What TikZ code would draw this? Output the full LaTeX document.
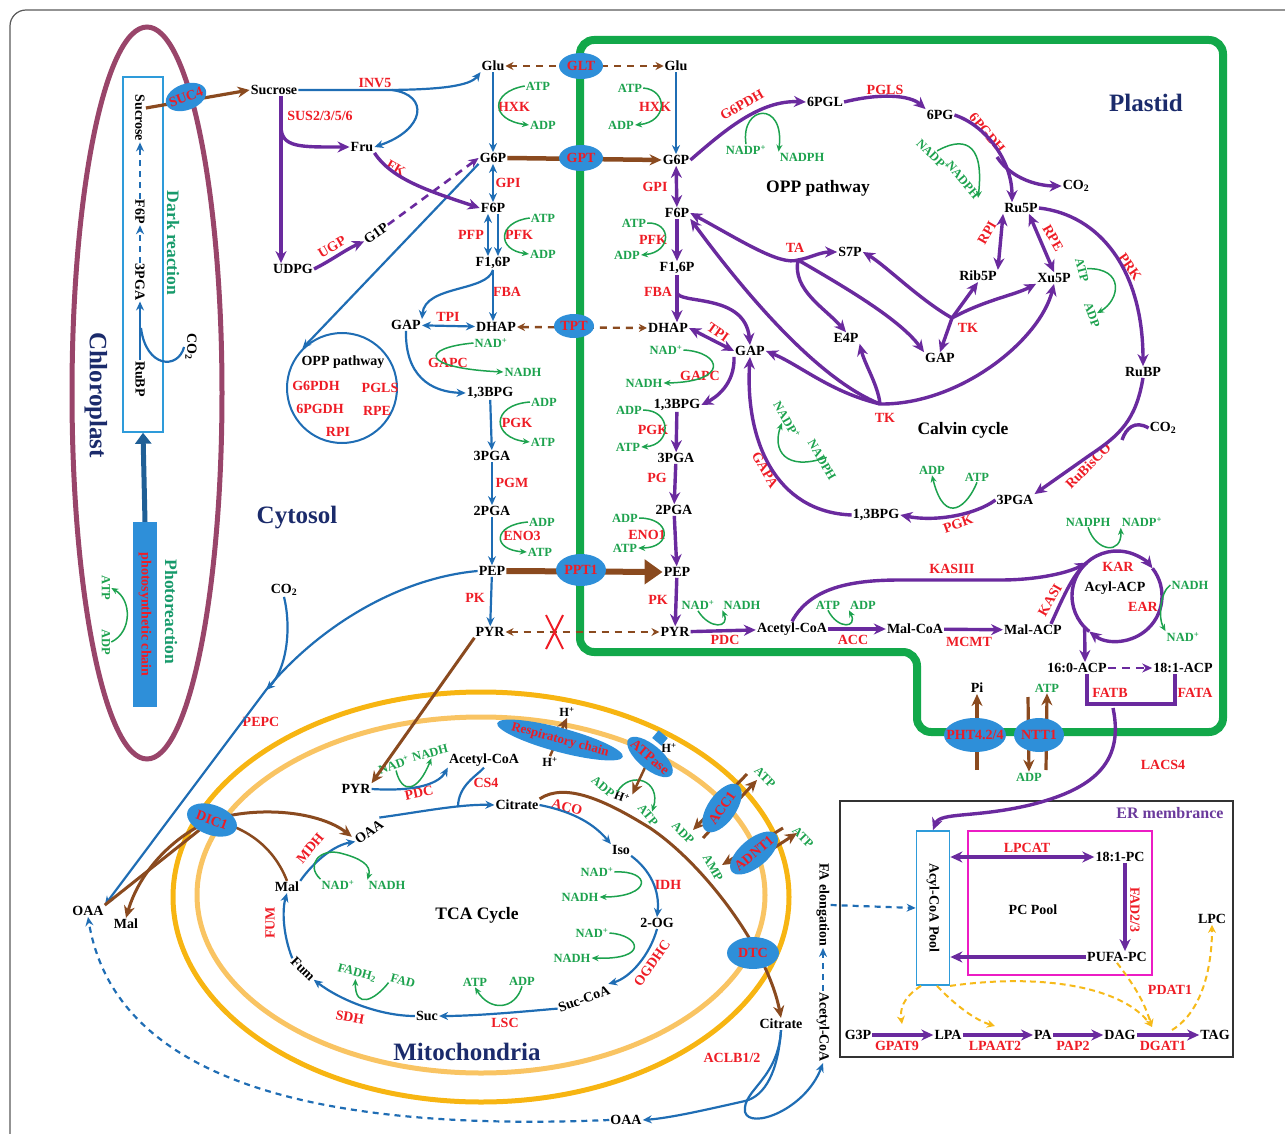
\documentclass[tikz,border=0pt]{standalone}
\usepackage{fontspec}
\setmainfont{Liberation Serif}
\usetikzlibrary{arrows.meta,shapes.geometric}

\definecolor{cblue}{HTML}{1F6DB4}
\definecolor{cpurple}{HTML}{6A2A9E}
\definecolor{cbrown}{HTML}{8A4A1F}
\definecolor{cgreen}{HTML}{1DA24E}
\definecolor{cred}{HTML}{EE1C25}
\definecolor{tpblue}{HTML}{2E8FD9}
\definecolor{titlenavy}{HTML}{1B2B6B}
\definecolor{plgreen}{HTML}{12A84A}
\definecolor{chlred}{HTML}{99456A}
\definecolor{mitoout}{HTML}{F7B512}
\definecolor{mitoin}{HTML}{F9C463}
\definecolor{boxblue}{HTML}{2E9BDA}
\definecolor{pcpink}{HTML}{EC1CC4}
\definecolor{dashyel}{HTML}{F6BA1A}
\definecolor{erpurple}{HTML}{6B3A9C}
\definecolor{dkteal}{HTML}{179A6B}
\definecolor{thickblue}{HTML}{1F5F96}

\newcommand{\metf}{\fontsize{14}{14}\selectfont\bfseries}
\newcommand{\coff}{\fontsize{12.5}{12.5}\selectfont\bfseries}

\begin{document}
\begin{tikzpicture}[x=1pt,y=-1pt,
  met/.style={font=\metf, inner sep=1pt},
  enz/.style={font=\metf, text=cred, inner sep=1pt},
  cof/.style={font=\coff, text=cgreen, inner sep=1pt},
  ttl/.style={font=\fontsize{25}{25}\selectfont\bfseries, text=titlenavy},
  sect/.style={font=\fontsize{17.5}{17.5}\selectfont\bfseries},
  tp/.style={ellipse, fill=tpblue, text=cred, font=\metf, inner xsep=-5pt, inner ysep=-2pt, minimum width=44pt, minimum height=26pt},
  bl/.style={draw=cblue, line width=2.2pt, >={Stealth[length=9pt,width=8pt]}},
  bld/.style={bl, dash pattern=on 6pt off 5pt},
  pu/.style={draw=cpurple, line width=3.4pt, >={Stealth[length=12pt,width=11pt]}},
  pud/.style={draw=cpurple, line width=2.6pt, dash pattern=on 8pt off 6pt, >={Stealth[length=10pt,width=9pt]}},
  br/.style={draw=cbrown, line width=3.2pt, >={Stealth[length=12pt,width=11pt]}},
  brd/.style={draw=cbrown, line width=2.4pt, dash pattern=on 7pt off 6pt, >={Stealth[length=8pt,width=8pt]}},
  gr/.style={draw=cgreen, line width=1.5pt, >={Stealth[length=7pt,width=6pt]}},
  yd/.style={draw=dashyel, line width=2pt, dash pattern=on 6pt off 4pt, >={Stealth[length=8pt,width=8pt]}}]

\useasboundingbox (0,0) rectangle (1285,1134);
\draw[black!65, line width=1.2pt, rounded corners=16pt] (10,10) rectangle (1330,1180);

% chloroplast
\draw[chlred, line width=5pt] (147,393) ellipse [x radius=75, y radius=366];
\node[draw=boxblue, line width=1.5pt, minimum width=40pt, minimum height=355pt, inner sep=0pt] (dbox) at (143,254.5) {};
\node[met, rotate=-90] (sucCh) at (140,118) {Sucrose};
\node[met, rotate=-90] (f6pCh) at (140,212) {F6P};
\node[met, rotate=-90] (pgaCh) at (140,282) {3PGA};
\node[met, rotate=-90] (rubpCh) at (140,379) {RuBP};
\node[met, rotate=-90] (co2Ch) at (191,347) {CO\textsubscript{2}};
\node[sect, text=dkteal, rotate=-90] at (173,243) {Dark reaction};
\node[ttl, rotate=-90] at (96,395) {Chloroplast};
\node[rotate=-90, fill=tpblue, minimum width=185pt, minimum height=24pt, inner sep=0pt, font=\metf, text=cred] (phc) at (145,614.5) {photosynthetic chain};
\node[sect, text=dkteal, rotate=-90] at (171,612) {Photoreaction};
\node[cof, rotate=-90] (atpCh) at (106,588) {ATP};
\node[cof, rotate=-90] (adpCh) at (106,642) {ADP};

% plastid, mitochondria, ER frames
\draw[plgreen, line width=8pt, rounded corners=14pt] (580,40) -- (1223,40) -- (1223,732) -- (917,732) -- (917,652) -- (580,652) -- cycle;
\draw[mitoout, line width=5pt] (481,897) ellipse [x radius=308, y radius=205];
\draw[mitoin, line width=5pt] (481,895) ellipse [x radius=284, y radius=178];
\draw[black!80, line width=2pt] (840,801) rectangle (1233,1057);
\draw[pcpink, line width=2pt] (968,831) rectangle (1152,975);
\node[circle, draw=cblue, line width=2pt, minimum size=110pt, inner sep=0pt] (oppc) at (342,388) {};

% titles
\node[ttl] at (297,518) {Cytosol};
\node[ttl] at (1146,103) {Plastid};
\node[ttl] at (467,1052) {Mitochondria};
\node[sect] at (818,188) {OPP pathway};
\node[sect] at (963,430) {Calvin cycle};
\node[sect] at (477,915) {TCA Cycle};
\node[font=\fontsize{16}{16}\selectfont\bfseries, text=erpurple] at (1170,813) {ER membrance};

% cytosol
\node[met] (sucC) at (274,90) {Sucrose};
\node[met] (gluC) at (493,66) {Glu};
\node[met] (fruC) at (362,147) {Fru};
\node[met] (g6pC) at (493,158) {G6P};
\node[met] (f6pC) at (493,208) {F6P};
\node[met] (fbpC) at (493,263) {F1,6P};
\node[met] (gapC) at (406,325) {GAP};
\node[met] (dhapC) at (496,327) {DHAP};
\node[met] (bpgC) at (490,393) {1,3BPG};
\node[met] (pgaC) at (492,456) {3PGA};
\node[met] (pga2C) at (492,511) {2PGA};
\node[met] (pepC) at (492,571) {PEP};
\node[met] (pyrC) at (490,632) {PYR};
\node[met] (udpgC) at (293,269) {UDPG};
\node[met, rotate=35] (g1pC) at (376,233) {G1P};
\node[met] (co2C) at (284,590) {CO\textsubscript{2}};
\node[met] (oaaC) at (88,911) {OAA};
\node[met] (malC) at (126,924) {Mal};
\node[met] (citC) at (781,1024) {Citrate};
\node[met] (oaaB) at (626,1120) {OAA};
\node[met, rotate=-90] (acoaC) at (823,1027) {Acetyl-CoA};
\node[met, rotate=-90] (fael) at (823,905) {FA elongation};
\node[met] at (343,362) {OPP pathway};
\node[enz] at (316,386) {G6PDH};
\node[enz] at (380,388) {PGLS};
\node[enz] at (320,409) {6PGDH};
\node[enz] at (377,411) {RPE};
\node[enz] at (338,432) {RPI};

\node[enz] at (375,83) {INV5};
\node[enz] at (320,116) {SUS2/3/5/6};
\node[enz, rotate=-30] at (396,168) {FK};
\node[enz, rotate=30] at (332,247) {UGP};
\node[enz] at (514,107) {HXK};
\node[enz] at (508,183) {GPI};
\node[enz] at (471,235) {PFP};
\node[enz] at (519,235) {PFK};
\node[enz] at (507,292) {FBA};
\node[enz] at (448,317) {TPI};
\node[enz] at (448,363) {GAPC};
\node[enz] at (517,423) {PGK};
\node[enz] at (512,483) {PGM};
\node[enz] at (522,536) {ENO3};
\node[enz] at (475,598) {PK};
\node[enz] at (261,722) {PEPC};
\node[enz] at (732,1058) {ACLB1/2};

\node[cof] (atpHx) at (538,86) {ATP};
\node[cof] (adpHx) at (543,125) {ADP};
\node[cof] (atpPf) at (543,218) {ATP};
\node[cof] (adpPf) at (543,254) {ADP};
\node[cof] (nadGa) at (491,343) {NAD\textsuperscript{+}};
\node[cof] (nadhGa) at (523,372) {NADH};
\node[cof] (adpPg) at (544,402) {ADP};
\node[cof] (atpPg) at (543,442) {ATP};
\node[cof] (adpEn) at (542,522) {ADP};
\node[cof] (atpEn) at (540,552) {ATP};

% plastid
\node[met] (gluL) at (676,66) {Glu};
\node[met] (g6pL) at (676,160) {G6P};
\node[met] (f6pL) at (677,213) {F6P};
\node[met] (fbpL) at (677,268) {F1,6P};
\node[met] (dhapL) at (668,328) {DHAP};
\node[met] (gapL) at (750,351) {GAP};
\node[met] (bpgL) at (677,405) {1,3BPG};
\node[met] (pgaL) at (676,458) {3PGA};
\node[met] (pga2L) at (674,510) {2PGA};
\node[met] (pepL) at (677,572) {PEP};
\node[met] (pyrL) at (675,632) {PYR};
\node[met] (pglL) at (825,102) {6PGL};
\node[met] (pgL) at (940,115) {6PG};
\node[met] (co2L) at (1076,186) {CO\textsubscript{2}};
\node[met] (ru5pL) at (1021,208) {Ru5P};
\node[met] (rib5pL) at (978,276) {Rib5P};
\node[met] (xu5pL) at (1054,278) {Xu5P};
\node[met] (s7pL) at (850,252) {S7P};
\node[met] (e4pL) at (846,338) {E4P};
\node[met] (gapT) at (940,358) {GAP};
\node[met] (rubpL) at (1143,372) {RuBP};
\node[met] (co2R) at (1163,428) {CO\textsubscript{2}};
\node[met] (pgaR) at (1015,500) {3PGA};
\node[met] (bpgR) at (876,515) {1,3BPG};
\node[met] (acoaL) at (792,629) {Acetyl-CoA};
\node[met] (malcoaL) at (915,629) {Mal-CoA};
\node[met] (malacpL) at (1033,630) {Mal-ACP};
\node[met] (acpL) at (1115,588) {Acyl-ACP};
\node[met] (c160) at (1077,668) {16:0-ACP};
\node[met] (c181) at (1183,668) {18:1-ACP};
\node[met] (piL) at (977,688) {Pi};

\node[enz] at (655,107) {HXK};
\node[enz] at (655,187) {GPI};
\node[enz] at (653,240) {PFK};
\node[enz] at (658,292) {FBA};
\node[enz, rotate=-35] at (718,332) {TPI};
\node[enz] at (700,376) {GAPC};
\node[enz] at (653,430) {PGK};
\node[enz] at (657,478) {PG};
\node[enz] at (647,535) {ENO1};
\node[enz] at (658,600) {PK};
\node[enz] at (725,640) {PDC};
\node[enz] at (853,640) {ACC};
\node[enz] at (969,642) {MCMT};
\node[enz] at (952,569) {KASIII};
\node[enz, rotate=60] at (1050,600) {KASI};
\node[enz] at (1118,567) {KAR};
\node[enz] at (1143,607) {EAR};
\node[enz] at (1110,693) {FATB};
\node[enz] at (1195,693) {FATA};
\node[enz, rotate=30] at (742,105) {G6PDH};
\node[enz] at (885,90) {PGLS};
\node[enz, rotate=-50] at (987,133) {6PGDH};
\node[enz, rotate=60] at (987,233) {RPI};
\node[enz, rotate=-60] at (1053,238) {RPE};
\node[enz, rotate=-55] at (1130,267) {PRK};
\node[enz] at (795,248) {TA};
\node[enz] at (968,328) {TK};
\node[enz] at (885,418) {TK};
\node[enz, rotate=-60] at (765,470) {GAPA};
\node[enz, rotate=20] at (958,524) {PGK};
\node[enz, rotate=45] at (1088,466) {RuBisCO};
\node[enz] at (1163,765) {LACS4};

\node[cof] (atpHL) at (630,88) {ATP};
\node[cof] (adpHL) at (621,125) {ADP};
\node[cof] (atpPL) at (634,223) {ATP};
\node[cof] (adpPL) at (627,255) {ADP};
\node[cof] (nadGL) at (666,350) {NAD\textsuperscript{+}};
\node[cof] (nadhGL) at (644,383) {NADH};
\node[cof] (adpKL) at (629,410) {ADP};
\node[cof] (atpKL) at (628,447) {ATP};
\node[cof] (adpEL) at (625,518) {ADP};
\node[cof] (atpEL) at (625,548) {ATP};
\node[cof] (nadPD) at (698,605) {NAD\textsuperscript{+}};
\node[cof] (nadhPD) at (742,605) {NADH};
\node[cof] (atpAC) at (828,605) {ATP};
\node[cof] (adpAC) at (863,605) {ADP};
\node[cof] (nadpG6) at (746,150) {NADP\textsuperscript{+}};
\node[cof] (nadphG6) at (802,157) {NADPH};
\node[cof, rotate=-45] (nadpPG) at (933,155) {NADP\textsuperscript{+}};
\node[cof, rotate=-50] (nadphPG) at (963,180) {NADPH};
\node[cof, rotate=-75] (atpPR) at (1082,270) {ATP};
\node[cof, rotate=-70] (adpPR) at (1092,315) {ADP};
\node[cof, rotate=-60] (nadpGA) at (787,420) {NADP\textsuperscript{+}};
\node[cof, rotate=-60] (nadphGA) at (822,460) {NADPH};
\node[cof] (adpCK) at (932,470) {ADP};
\node[cof] (atpCK) at (977,477) {ATP};
\node[cof] (nadphK) at (1088,522) {NADPH};
\node[cof] (nadpK) at (1142,522) {NADP\textsuperscript{+}};
\node[cof] (nadhE) at (1190,585) {NADH};
\node[cof] (nadE) at (1183,637) {NAD\textsuperscript{+}};
\node[cof] (atpN) at (1047,688) {ATP};
\node[cof] (adpN) at (1029,777) {ADP};

% mitochondria
\node[met] (pyrM) at (356,789) {PYR};
\node[met] (acoaM) at (484,760) {Acetyl-CoA};
\node[met, rotate=35] (oaaM) at (369,832) {OAA};
\node[met] (citM) at (517,805) {Citrate};
\node[met] (isoM) at (621,850) {Iso};
\node[met] (ogM) at (657,923) {2-OG};
\node[met, rotate=20] (succoaM) at (584,999) {Suc-CoA};
\node[met] (sucM) at (427,1016) {Suc};
\node[met, rotate=-45] (fumM) at (303,969) {Fum};
\node[met] (malM) at (287,887) {Mal};
\node[met, font=\coff] (hRu) at (567,712) {H\textsuperscript{+}};
\node[met, font=\coff] (hRl) at (550,762) {H\textsuperscript{+}};
\node[met, font=\coff] (hAu) at (669,748) {H\textsuperscript{+}};
\node[met, font=\coff, rotate=-20] (hAl) at (622,797) {H\textsuperscript{+}};

\node[enz, rotate=12] at (419,793) {PDC};
\node[enz] at (486,783) {CS4};
\node[enz, rotate=-15] at (567,807) {ACO};
\node[enz] at (668,885) {IDH};
\node[enz, rotate=55] at (652,963) {OGDHC};
\node[enz] at (505,1023) {LSC};
\node[enz, rotate=-10] at (350,1017) {SDH};
\node[enz, rotate=90] at (270,923) {FUM};
\node[enz, rotate=50] at (310,848) {MDH};

\node[cof, rotate=20] (nadPM) at (394,765) {NAD\textsuperscript{+}};
\node[cof, rotate=15] (nadhPM) at (430,753) {NADH};
\node[cof] (nadMD) at (338,885) {NAD\textsuperscript{+}};
\node[cof] (nadhMD) at (387,885) {NADH};
\node[cof] (nadI) at (597,872) {NAD\textsuperscript{+}};
\node[cof] (nadhI) at (580,897) {NADH};
\node[cof] (nadO) at (592,933) {NAD\textsuperscript{+}};
\node[cof] (nadhO) at (572,958) {NADH};
\node[cof] (atpLS) at (475,982) {ATP};
\node[cof] (adpLS) at (522,981) {ADP};
\node[cof, rotate=-15] (fadhM) at (357,973) {FADH\textsubscript{2}};
\node[cof, rotate=-15] (fadM) at (403,981) {FAD};
\node[cof, rotate=-40] (adpAT) at (603,787) {ADP};
\node[cof, rotate=-50] (atpAT) at (648,815) {ATP};
\node[cof, rotate=-45] (adpA1) at (683,833) {ADP};
\node[cof, rotate=-45] (atpA1) at (765,777) {ATP};
\node[cof, rotate=-60] (ampN1) at (713,868) {AMP};
\node[cof, rotate=-45] (atpN1) at (803,837) {ATP};

% ER
\node[draw=boxblue, line width=1.8pt, rotate=-90, minimum width=154pt, minimum height=33pt, inner sep=0pt, font=\metf] (acpool) at (933,908) {Acyl-CoA Pool};
\node[met] (pcpool) at (1033,910) {PC Pool};
\node[met] (pc181) at (1120,857) {18:1-PC};
\node[met] (pufa) at (1117,957) {PUFA-PC};
\node[met] (lpc) at (1212,919) {LPC};
\node[met] (g3p) at (858,1035) {G3P};
\node[met] (lpa) at (948,1035) {LPA};
\node[met] (pa) at (1043,1035) {PA};
\node[met] (dag) at (1120,1035) {DAG};
\node[met] (tag) at (1215,1035) {TAG};
\node[enz] at (1027,848) {LPCAT};
\node[enz, rotate=-90] at (1135,910) {FAD2/3};
\node[enz] at (1170,990) {PDAT1};
\node[enz] at (897,1046) {GPAT9};
\node[enz] at (995,1046) {LPAAT2};
\node[enz] at (1073,1046) {PAP2};
\node[enz] at (1163,1046) {DGAT1};

% transporter places
\coordinate (suc4) at (186,97);
\coordinate (glt) at (581,66);
\coordinate (gpt) at (581,158);
\coordinate (tpt) at (574,326);
\coordinate (ppt) at (581,570);
\coordinate (dic) at (212,820);
\coordinate (dtc) at (753,953);
\coordinate (pht) at (975,735);
\coordinate (ntt) at (1039,735);
\coordinate (resp) at (560,740);
\coordinate (atpase) at (650,757);
\coordinate (acc1) at (722,808);
\coordinate (adnt) at (754,853);
\coordinate (acpc) at (1117,596);
\coordinate (acyltl) at ([shift={(-132:45)}]acpc);
\coordinate (acybl) at ([shift={(136:45)}]acpc);
\coordinate (pepcj) at (266,690);
\coordinate (ta) at (798,260);
\coordinate (tk1) at (952,318);
\coordinate (tk2) at (880,404);

% chloroplast connectors
\draw[bld, ->] (f6pCh.west) -- (sucCh.east);
\draw[bld, ->] (pgaCh.west) -- (f6pCh.east);
\draw[bl, ->] (rubpCh.west) -- (pgaCh.east);
\draw[bl] (co2Ch.south) .. controls (178,370) and (146,368) .. (141,328);
\draw[thickblue, line width=5pt, -{Triangle[length=11pt,width=16pt]}] (phc.west) -- (dbox.south);
\draw[gr, ->] (adpCh.north) .. controls (132,632) and (132,600) .. (atpCh.north);
\draw[br, ->] ([yshift=10pt]sucCh.north) -- (sucC.west);

% cytosol connectors
\draw[bl, ->] (sucC.east) -- (380,90) .. controls (440,90) and (470,86) .. (gluC.south west);
\draw[bl, ->] (392,90) .. controls (430,95) and (425,130) .. (fruC.east);
\draw[bl, ->] (gluC) -- (g6pC);
\draw[bl, <->] (g6pC) -- (f6pC);
\draw[bl, <->] ([xshift=-5pt]f6pC.south) -- ([xshift=-5pt]fbpC.north);
\draw[bl, ->] ([xshift=5pt]f6pC.south) -- ([xshift=5pt]fbpC.north);
\draw[bl, ->] (fbpC.south) -- (fbpC.south |- dhapC.north);
\draw[bl, ->] (fbpC.south) .. controls (487,292) and (425,285) .. (gapC.north east);
\draw[bl, <->] (gapC) -- (dhapC);
\draw[bl, ->] (gapC.south) .. controls (405,375) and (430,392) .. (bpgC.west);
\draw[bl, ->] (bpgC) -- (pgaC);
\draw[bl, ->] (pgaC) -- (pga2C);
\draw[bl, ->] (pga2C) -- (pepC);
\draw[bl, ->] (pepC) -- (pyrC);
\draw[bl, ->] (g6pC.south west) -- (oppc.north west);
\draw[bl, ->] (pepC.west) .. controls (400,578) and (320,625) .. (pepcj) -- (oaaC.north east);
\draw[bl, ->] (co2C.south) .. controls (292,630) and (286,670) .. (pepcj);
\draw[pu, ->] ([xshift=7pt]sucC.south) -- ([xshift=-12pt]udpgC.north);
\draw[pu, ->] (281,126) .. controls (281,148) and (300,147) .. (fruC.west);
\draw[pu, ->] (fruC.south east) .. controls (392,180) and (432,192) .. (f6pC.west);
\draw[pu, ->] (udpgC.east) .. controls (332,260) and (345,250) .. (g1pC.west);
\draw[pud, ->] (g1pC.east) -- (g6pC.west);
\draw[gr, ->] (atpHx.west) .. controls (490,92) and (490,120) .. (adpHx.west);
\draw[gr, ->] (atpPf.west) .. controls (497,222) and (497,250) .. (adpPf.west);
\draw[gr, ->] (nadGa.west) .. controls (420,348) and (420,368) .. (nadhGa.west);
\draw[gr, ->] (adpPg.west) .. controls (490,405) and (492,438) .. (atpPg.west);
\draw[gr, ->] (adpEn.west) .. controls (492,525) and (492,550) .. (atpEn.west);

% transport between compartments
\draw[brd, <->] (gluC.east) -- (gluL.west);
\draw[br, line width=4.5pt, ->] (g6pC.east) -- (g6pL.west);
\draw[brd, <->] (dhapC.east) -- (dhapL.west);
\draw[br, line width=6pt, -{Triangle[length=18pt,width=24pt]}] (pepC.east) -- (pepL.west);
\draw[brd, <->] (pyrC.east) -- (pyrL.west);
\draw[cred, line width=2pt] (546,615) -- (563,649) (563,615) -- (546,649);
\draw[br, line width=3pt, ->] (pyrC.south west) -- (pyrM.north east);

% plastid connectors
\draw[bl, ->] (gluL) -- (g6pL);
\draw[pu, <->] (g6pL) -- (f6pL);
\draw[pu, ->] (f6pL) -- (fbpL);
\draw[pu, ->] (fbpL.south) -- (fbpL.south |- dhapL.north);
\draw[pu, ->] (677,292) .. controls (677,305) and (745,292) .. (gapL.north);
\draw[pu, <->] (dhapL.east) -- (gapL.west);
\draw[pu, ->] (gapL.south west) .. controls (735,385) and (715,398) .. (bpgL.east);
\draw[pu, ->] (bpgL) -- (pgaL);
\draw[pu, ->] (pgaL) -- (pga2L);
\draw[pu, ->] (pga2L) -- (pepL);
\draw[pu, ->] (pepL) -- (pyrL);
\draw[pu, ->] (pyrL) -- (acoaL);
\draw[pu, ->] (acoaL) -- (malcoaL);
\draw[pu, ->] (malcoaL) -- (malacpL);
\draw[pu, ->] (g6pL.east) .. controls (725,130) and (760,100) .. (pglL.west);
\draw[pu, ->] (pglL.east) .. controls (880,93) and (910,95) .. (pgL.north west);
\draw[pu, ->] (pgL.east) .. controls (985,125) and (1012,160) .. ([xshift=-9pt]ru5pL.north);
\draw[pu, ->] (997,157) .. controls (1012,180) and (1040,186) .. (co2L.west);
\draw[pu, <->] (ru5pL.south west) -- (rib5pL.north east);
\draw[pu, <->] ([xshift=8pt]ru5pL.south) -- (xu5pL.north);
\draw[pu, ->] (ru5pL.east) .. controls (1100,215) and (1143,270) .. (rubpL.north);
\draw[pu, ->] (rubpL.south) .. controls (1136,420) and (1120,435) .. (1090,455) -- (pgaR.north east);
\draw[pu] (co2R.west) .. controls (1135,420) and (1126,428) .. (1122,440);
\draw[pu, ->] (pgaR.west) .. controls (975,515) and (935,522) .. (bpgR.east);
\draw[pu, ->] (bpgR.west) .. controls (775,512) and (745,440) .. (gapL.south);
\draw[pu, <->] (f6pL.east) .. controls (740,240) and (780,266) .. (ta) .. controls (810,258) and (820,252) .. (s7pL.west);
\draw[pu, ->] (ta) .. controls (792,290) and (825,308) .. (e4pL.north);
\draw[pu, ->] (ta) .. controls (850,290) and (900,320) .. (gapT.north west);
\draw[pu, ->] (tk1) .. controls (920,300) and (885,265) .. (s7pL.east);
\draw[pu, ->] (tk1) -- (gapT.north);
\draw[pu, ->] (tk1) -- (rib5pL.south);
\draw[pu, ->] (tk1) .. controls (985,300) and (1015,295) .. (xu5pL.south west);
\draw[pu, ->] (tk2) .. controls (820,380) and (750,300) .. (f6pL.south east);
\draw[pu, ->] (tk2) .. controls (830,392) and (800,365) .. (gapL.east);
\draw[pu, ->] (tk2) .. controls (878,385) and (865,365) .. (e4pL.south east);
\draw[pu, ->] (tk2) .. controls (960,405) and (1040,340) .. (xu5pL.south);
\draw[pu, ->] (acoaL.north) .. controls (810,588) and (850,580) .. (900,580) -- (1000,580) .. controls (1040,580) and (1070,572) .. (acyltl);
\draw[pu, ->] (acyltl) arc[start angle=-132, end angle=-38, radius=45];
\draw[pu, ->] ([shift={(-38:45)}]acpc) arc[start angle=-38, end angle=128, radius=45];
\draw[pu] ([shift={(128:45)}]acpc) arc[start angle=128, end angle=228, radius=45];
\draw[pu] ([xshift=18pt]malacpL.north) .. controls (1062,600) and (1072,575) .. (acyltl);
\draw[pu, ->] (acybl) -- ([xshift=8pt]c160.north);
\draw[pud, ->] (c160.east) -- (c181.west);
\draw[pu] ([xshift=10pt]c160.south) -- ++(0,30) -| ([xshift=-8pt]c181.south);
\draw[pu, ->] (1113,708) .. controls (1125,765) and (1090,790) .. (1030,805) .. controls (975,818) and (940,812) .. (acpool.west);
\draw[br, ->] (977,770) -- (piL.south);
\draw[br, ->] (1028,697) -- (adpN.north);
\draw[br, ->] (1046,770) -- (atpN.south);

\draw[gr, ->] (atpHL.east) .. controls (668,90) and (668,122) .. (adpHL.east);
\draw[gr, ->] (atpPL.east) .. controls (672,222) and (672,252) .. (adpPL.east);
\draw[gr, ->] (nadGL.east) .. controls (722,352) and (730,382) .. (nadhGL.east);
\draw[gr, ->] (adpKL.east) .. controls (672,410) and (672,445) .. (atpKL.east);
\draw[gr, ->] (adpEL.east) .. controls (672,518) and (672,548) .. (atpEL.east);
\draw[gr, ->] (nadPD.south) .. controls (710,630) and (730,628) .. (nadhPD.south west);
\draw[gr, ->] (atpAC.south) .. controls (838,630) and (858,628) .. (adpAC.south west);
\draw[gr, ->] (nadpG6.north) .. controls (740,105) and (785,100) .. (nadphG6.north west);
\draw[gr, ->] (nadpPG.north) .. controls (960,138) and (985,138) .. (nadphPG.east);
\draw[gr, ->] (atpPR.north) .. controls (1125,268) and (1120,300) .. (adpPR.north);
\draw[gr, ->] (nadphGA.north) .. controls (785,472) and (772,450) .. (nadpGA.south);
\draw[gr, ->] (atpCK.south) .. controls (968,505) and (945,528) .. (adpCK.south);
\draw[gr, ->] (nadphK.south) .. controls (1096,552) and (1122,555) .. (nadpK.south west);
\draw[gr, ->] (nadhE.west) .. controls (1160,592) and (1158,618) .. (nadE.north west);

% mitochondria connectors
\draw[bl, ->] (pyrM.east) .. controls (420,792) and (440,782) .. (acoaM.south west);
\draw[bl] (acoaM.south) .. controls (478,775) and (458,785) .. (458,807);
\draw[bl, ->] (oaaM.north east) .. controls (420,812) and (460,804) .. (citM.west);
\draw[bl, ->] (citM.east) .. controls (575,812) and (595,825) .. (isoM.north west);
\draw[bl, ->] (isoM.south east) .. controls (650,870) and (660,890) .. (ogM.north);
\draw[bl, ->] (ogM.south) .. controls (650,955) and (630,978) .. (succoaM.north east);
\draw[bl, ->] (succoaM.west) .. controls (540,1010) and (480,1016) .. (sucM.east);
\draw[bl, ->] (sucM.west) .. controls (380,1016) and (340,1000) .. (fumM.east);
\draw[bl, ->] (fumM.west) .. controls (283,935) and (282,910) .. (malM.south);
\draw[bl, ->] (malM.north east) .. controls (315,860) and (335,845) .. (oaaM.west);
\draw[gr, ->] (nadPM.south) .. controls (402,795) and (418,792) .. (nadhPM.south);
\draw[gr, ->] (nadMD.north west) .. controls (305,865) and (320,848) .. (340,853) .. controls (360,858) and (372,865) .. (nadhMD.north west);
\draw[gr, ->] (nadI.east) .. controls (652,870) and (652,897) .. (nadhI.east);
\draw[gr, ->] (nadO.east) .. controls (640,935) and (650,960) .. (nadhO.east);
\draw[gr, ->] (adpLS.south) .. controls (515,1010) and (490,1012) .. (atpLS.south);
\draw[gr, ->] (fadM.south west) .. controls (375,1000) and (355,1010) .. (fadhM.south);
\draw[gr, ->] (adpAT.north east) .. controls (630,770) and (662,780) .. (atpAT.north);
\draw[br, line width=2.5pt, ->] (hRl.north) -- (hRu.south);
\draw[br, line width=2.5pt, ->] (atpase) -- (hAl.north east);
\draw[br, line width=3pt, ->] ([shift={(-19,30)}]acc1) -- ([shift={(35,-28)}]acc1);
\draw[br, line width=3pt, ->] ([shift={(25,-34)}]acc1) -- ([shift={(-29,22)}]acc1);
\draw[br, line width=3pt, ->] ([shift={(-19,20)}]adnt) -- ([shift={(43,-20)}]adnt);
\draw[br, line width=3pt, ->] ([shift={(29,-25)}]adnt) -- ([shift={(-32,12)}]adnt);
\draw[br, line width=3pt, ->] (citM.north east) .. controls (565,782) and (605,800) .. (650,828) .. controls (705,865) and (768,950) .. (citC.north);
\draw[br, line width=2.5pt] (malM.north) .. controls (275,850) and (250,828) .. (dic);
\draw[br, line width=3pt, ->] (dic) .. controls (260,805) and (320,812) .. (oaaM.north west);
\draw[br, line width=3pt, ->] (dic) .. controls (175,835) and (140,870) .. (malC.north);
\draw[br, line width=3pt] (dic) -- (oaaC.north east);

% cytosol to ER
\draw[bl, ->] (citC.south) .. controls (778,1072) and (765,1096) .. (745,1101) .. controls (705,1110) and (670,1118) .. (oaaB.east);
\draw[bl, ->] (citC.south) .. controls (778,1080) and (742,1090) .. (745,1112) .. controls (750,1130) and (805,1110) .. (acoaC.east);
\draw[bld, ->] (oaaB.west) .. controls (250,1135) and (110,1050) .. (oaaC.south);
\draw[bld, ->] (acoaC.west) -- (fael.east);
\draw[bld, ->] (fael.north) -- (acpool.south);

% ER connectors
\draw[pu, <->] (acpool.north |- pc181.west) -- (pc181.west);
\draw[pu, ->] ([xshift=5pt]pc181.south) -- ([xshift=5pt]pc181.south |- pufa.north);
\draw[pu, ->] (pufa.west) -- (acpool.north |- pufa.west);
\draw[pu, ->] (g3p.east) -- (lpa.west);
\draw[pu, ->] (lpa.east) -- (pa.west);
\draw[pu, ->] (pa.east) -- (dag.west);
\draw[pu, ->] (dag.east) -- (tag.west);
\draw[yd, ->] ([xshift=-12pt]acpool.east) .. controls (902,998) and (900,1010) .. (902,1024);
\draw[yd, ->] ([xshift=4pt]acpool.east) .. controls (955,1005) and (975,1020) .. (995,1026);
\draw[yd, ->] ([xshift=17pt]acpool.east) .. controls (1050,972) and (1125,990) .. (1152,1027);
\draw[yd, ->] (pufa.south) .. controls (1138,990) and (1145,1005) .. (1152,1027);
\draw[yd, ->] (1172,1030) .. controls (1205,1010) and (1212,960) .. (lpc.south);

% transporters
\node[tp, rotate=20, minimum width=42pt] (suc4n) at (suc4) {SUC4};
\node[tp] (gltn) at (glt) {GLT};
\node[tp] (gptn) at (gpt) {GPT};
\node[tp, minimum width=40pt, minimum height=24pt] (tptn) at (tpt) {TPT};
\node[tp, minimum width=50pt, minimum height=32pt] (pptn) at (ppt) {PPT1};
\node[tp, rotate=-20, minimum width=52pt, minimum height=30pt] (dicn) at (dic) {DIC1};
\node[tp, minimum width=52pt, minimum height=32pt] (dtcn) at (dtc) {DTC};
\node[tp, inner xsep=-9pt, minimum width=62pt, minimum height=34pt] (phtn) at (pht) {PHT4.2/4};
\node[tp, minimum width=50pt, minimum height=34pt] (nttn) at (ntt) {NTT1};
\node[tp, rotate=-15, inner xsep=-12pt, font=\fontsize{13}{13}\selectfont\bfseries, minimum width=130pt, minimum height=24pt] (respn) at (resp) {Respiratory chain};
\fill[tpblue, rotate around={-40:(660,738)}] (654,733) rectangle (666,743);
\node[tp, rotate=-40, inner xsep=-8pt, minimum width=56pt, minimum height=24pt] (atpasen) at (atpase) {ATPase};
\node[tp, rotate=55, minimum width=56pt, minimum height=28pt] (acc1n) at (acc1) {ACC1};
\node[tp, rotate=40, inner xsep=-8pt, minimum width=58pt, minimum height=28pt] (adntn) at (adnt) {ADNT1};
\end{tikzpicture}
\end{document}
